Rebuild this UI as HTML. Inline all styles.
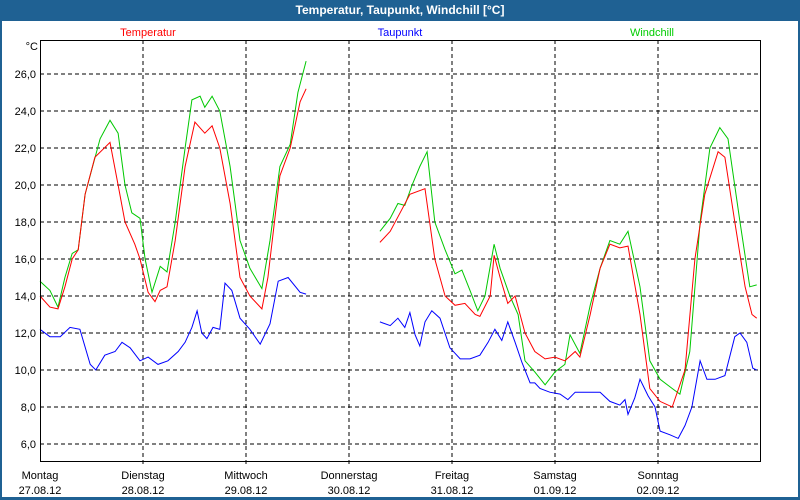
<!DOCTYPE html>
<html><head><meta charset="utf-8"><style>
html,body{margin:0;padding:0;background:#fff}
svg{display:block;font-family:"Liberation Sans",sans-serif}
</style></head><body>
<svg id="c" width="800" height="500" viewBox="0 0 800 500">
<rect x="0" y="0" width="800" height="500" fill="#1f6193"/>
<rect x="2" y="21" width="796" height="476" fill="#fff"/>
<text x="400" y="14" text-anchor="middle" fill="#fff" font-size="12" font-weight="bold">Temperatur, Taupunkt, Windchill [°C]</text>
<text x="148" y="36" text-anchor="middle" fill="#f00" font-size="11">Temperatur</text>
<text x="400" y="36" text-anchor="middle" fill="#00f" font-size="11">Taupunkt</text>
<text x="652" y="36" text-anchor="middle" fill="#0c0" font-size="11">Windchill</text>
<text x="38" y="50" text-anchor="end" fill="#000" font-size="11">°C</text>
<g id="grid"></g><g id="series"></g><g id="axes"></g>
</svg>
<script>
const yTicks=[6,8,10,12,14,16,18,20,22,24,26];
const dayNames=["Montag","Dienstag","Mittwoch","Donnerstag","Freitag","Samstag","Sonntag"];
const dayDates=["27.08.12","28.08.12","29.08.12","30.08.12","31.08.12","01.09.12","02.09.12"];
const tempHours=[0,2.3,4.2,5.8,7.5,8.9,10.5,12.8,16.3,18.2,19.8,22.1,23.3,25.2,26.8,28,29.6,31.5,33.8,36.1,38.4,40.1,41.9,44.3,46.6,48.9,51.7,53.1,55.9,58.3,60.6,62,null,79.2,81.6,83.9,86.2,89.7,92,94.4,96.7,99,101.4,102.5,104.9,105.8,107.2,109,110.7,113,115.3,117.7,120,122.3,124.7,125.8,128.2,130.5,132.8,135.1,137,139.8,142.1,144.5,147.3,150.3,152.6,154.9,158,159.6,161.9,164.3,165.9,167];
const tempValues=[14,13.4,13.3,14.5,16,16.5,19.5,21.5,22.3,20,18,16.8,16,14.2,13.7,14.3,14.5,17,21,23.4,22.8,23.2,22,19,15,14,13.3,15,20.5,22,24.5,25.2,null,16.9,17.5,18.5,19.5,19.8,16,14,13.5,13.6,13,12.9,14,16.2,15,13.6,14,12,11,10.6,10.7,10.5,11,10.7,13,15.5,16.8,16.6,16.7,13,9,8.3,8,10,16,19.5,21.8,21.5,18,14.5,13,12.8];
const windHours=[0,2.3,4.2,5.8,7.5,8.9,10.5,14,16.3,18.2,19.8,21.4,23.3,24.5,26.1,28,29.6,31.5,33.8,35.4,37.3,38.4,40.1,41.9,44.3,46.6,48.9,51.7,53.6,55.9,58.3,60.1,62,null,79.2,81.6,83.4,85,86.7,88.5,90.2,92,94.4,96.7,98.3,100.2,102,103.7,105.8,107.2,109.5,111.4,113,115.3,117.7,120,122.3,123.5,125.8,128.2,130.5,132.8,135.1,137,139.8,142.1,144.5,147.3,149.1,151.4,153.8,156.1,158.4,160.3,163.1,165.4,167];
const windValues=[14.8,14.3,13.4,15,16.3,16.5,19.5,22.5,23.5,22.8,20,18.5,18.2,16,14.2,15.6,15.3,18,22,24.6,24.8,24.2,24.8,24,21,17,15.5,14.4,17,21,22.2,25,26.7,null,17.5,18.2,19,18.9,20,21,21.8,18,16.5,15.2,15.4,14.3,13.2,14,16.8,15.5,14,13,10.5,9.9,9.2,9.9,10.3,11.9,10.9,13.5,15.5,17,16.8,17.5,14.5,10.5,9.5,9,8.7,11,18,22,23.1,22.5,18,14.5,14.6];
const dewHours=[0,2.3,4.7,7,9.3,11.7,13,15.1,17.5,19.1,21,23.3,25.2,27.5,29.8,32.2,33.8,35.4,36.6,37.7,38.9,40.3,41.9,43.1,44.7,46.6,48.9,51.3,53.6,55.5,57.8,60.6,62,null,79.2,81.6,83.4,85,86.2,87.4,88.5,89.7,91.3,93.2,95.5,97.9,100.2,102.5,104.4,106,107.6,109,110.7,112.3,114.2,115.3,116.5,118.8,121.2,123,124.7,128.2,130.5,132.8,135.1,136.3,137,138.6,139.8,141.7,143.3,144.5,146.8,148.7,150.3,151.9,153.8,155.4,157.3,159.6,161.9,163.1,164.7,166.1,167];
const dewValues=[12.2,11.8,11.8,12.3,12.2,10.3,10,10.8,11,11.5,11.2,10.5,10.7,10.3,10.5,11,11.5,12.3,13.2,12,11.7,12.3,12.2,14.7,14.3,12.8,12.2,11.4,12.5,14.8,15,14.2,14.1,null,12.6,12.4,12.8,12.3,13.1,11.9,11.3,12.6,13.2,12.8,11.2,10.6,10.6,10.8,11.5,12.2,11.6,12.6,11.5,10.4,9.3,9.3,9,8.8,8.7,8.4,8.8,8.8,8.8,8.3,8.1,8.4,7.6,8.5,9.5,8.6,8,6.7,6.5,6.3,7,8,10.5,9.5,9.5,9.7,11.8,12,11.5,10.1,10];

const L=40,R=760,T=40,B=461;
const xs=h=>L+h*103/24;
const ys=v=>74+(26-v)*18.5;
const NS="http://www.w3.org/2000/svg";
function mk(tag,parent,attrs){const e=document.createElementNS(NS,tag);for(const k in attrs)e.setAttribute(k,attrs[k]);document.getElementById(parent).appendChild(e);return e;}

yTicks.forEach(v=>{
  const g=mk("line","grid",{x1:L,x2:R,y1:ys(v),y2:ys(v),stroke:"#000","stroke-dasharray":"4,3"});
  
  
  const t=mk("text","axes",{x:36,y:ys(v)+4,"text-anchor":"end","font-size":11,fill:"#000"});
  t.textContent=v.toFixed(1).replace(".",",");
  
  
});
dayNames.forEach((d,i)=>{
  const x=xs(i*24);
  if(i>0){const g=mk("line","grid",{x1:x,x2:x,y1:T,y2:B+4,stroke:"#000","stroke-dasharray":"4,3"});
  
  }
  const t=mk("text","axes",{x:x,y:479,"text-anchor":"middle","font-size":11,fill:"#000"});
  t.textContent=d;
  
  
  const t2=mk("text","axes",{x:x,y:494,"text-anchor":"middle","font-size":11,fill:"#000"});
  t2.textContent=dayDates[i];
  
  
});
const box=mk("rect","axes",{x:L+0.5,y:T+0.5,width:R-L,height:B-T,fill:"none",stroke:"#000","stroke-width":1});



function path(hs,vs){let d="",pen=false;for(let i=0;i<hs.length;i++){if(hs[i]===null||vs[i]===null){pen=false;continue;}d+=(pen?"L":"M")+xs(hs[i]).toFixed(1)+","+ys(vs[i]).toFixed(1);pen=true;}return d;}
const pw=mk("path","series",{d:path(windHours,windValues),fill:"none",stroke:"#00c800","stroke-width":1});


const pt=mk("path","series",{d:path(tempHours,tempValues),fill:"none",stroke:"#f00","stroke-width":1});


const pd=mk("path","series",{d:path(dewHours,dewValues),fill:"none",stroke:"#00f","stroke-width":1});


</script>
</body></html>
